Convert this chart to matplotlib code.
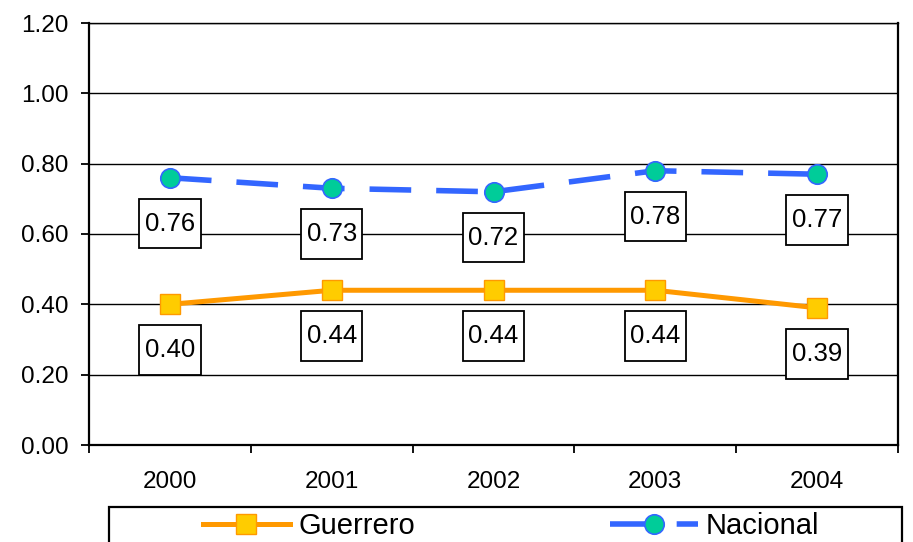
import numpy as np
import matplotlib
matplotlib.use("Agg")
import matplotlib.pyplot as plt
from matplotlib.path import Path
from matplotlib.patches import Rectangle

plt.rcParams['font.family'] = ['Liberation Sans', 'DejaVu Sans']

years = ['2000', '2001', '2002', '2003', '2004']
guerrero = [0.40, 0.44, 0.44, 0.44, 0.39]
nacional = [0.76, 0.73, 0.72, 0.78, 0.77]
yticks = [0.0, 0.2, 0.4, 0.6, 0.8, 1.0, 1.2]


def label_box(x0, y0, width, height, mutation_size):
    # rectangle with more padding top/bottom than left/right, like the excel labels
    px = 0.22 * mutation_size
    py = 0.5 * mutation_size
    x0, x1 = x0 - px, x0 + width + px
    y0, y1 = y0 - py, y0 + height + py
    return Path([(x0, y0), (x1, y0), (x1, y1), (x0, y1), (x0, y0)], closed=True)


fig = plt.figure(figsize=(9.13, 5.42), dpi=100)
ax = fig.add_axes([89 / 913, 1 - 445 / 542, (898 - 89) / 913, (445 - 23) / 542])

x = np.arange(len(years))
ax.plot(x, guerrero, color='#FF9900', lw=3.6, marker='s', ms=14, mfc='#FFCC00', mec='#FF9900', mew=1,
        label='Guerrero', zorder=4)
ax.plot(x, nacional, color='#3366FF', lw=4, dashes=(7.5, 4.5), marker='o', ms=14, mfc='#00CC99',
        mec='#3366FF', mew=1.2, label='Nacional', zorder=4)

for series in (guerrero, nacional):
    for xi, v in zip(x, series):
        ax.annotate(f"{v:.2f}", (xi, v), xytext=(0, -33), textcoords='offset points', ha='center', va='center',
                    fontsize=18.5, zorder=5,
                    bbox=dict(boxstyle=label_box, fc='white', ec='black', lw=1.3))

ax.set_xlim(-0.5, 4.5)
ax.set_ylim(0, 1.2)
ax.set_yticks(yticks)
ax.set_yticklabels([f"{t:.2f}" for t in yticks], fontsize=17.5)
ax.set_xticks(x)
ax.set_xticklabels(years, fontsize=17.5)
ax.set_xticks(np.arange(-0.5, 5, 1), minor=True)
ax.tick_params(axis='x', which='major', length=0, pad=19)
ax.tick_params(axis='x', which='minor', length=6, width=1.3, direction='out')
ax.tick_params(axis='y', length=6, width=1.3, direction='out', pad=9)
ax.yaxis.grid(True, color='black', lw=1)
ax.set_axisbelow(True)
for s in ['left', 'right', 'bottom']:
    ax.spines[s].set_linewidth(1.6)
ax.spines['top'].set_linewidth(1)

# legend frame runs off the bottom edge like in the original
h, l = ax.get_legend_handles_labels()
fig.legend(h, l, loc='center', bbox_to_anchor=(511 / 913, 1 - 526 / 542), ncol=2, frameon=False,
           fontsize=21, handlelength=3.0, handletextpad=0.28, columnspacing=6.7, numpoints=1, borderpad=0)
fig.patches.append(Rectangle((109 / 913, 1 - 560 / 542), (902 - 109) / 913, 53 / 542,
                             transform=fig.transFigure, fill=False, ec='black', lw=1.6))

plt.savefig('out.png', dpi=100)
